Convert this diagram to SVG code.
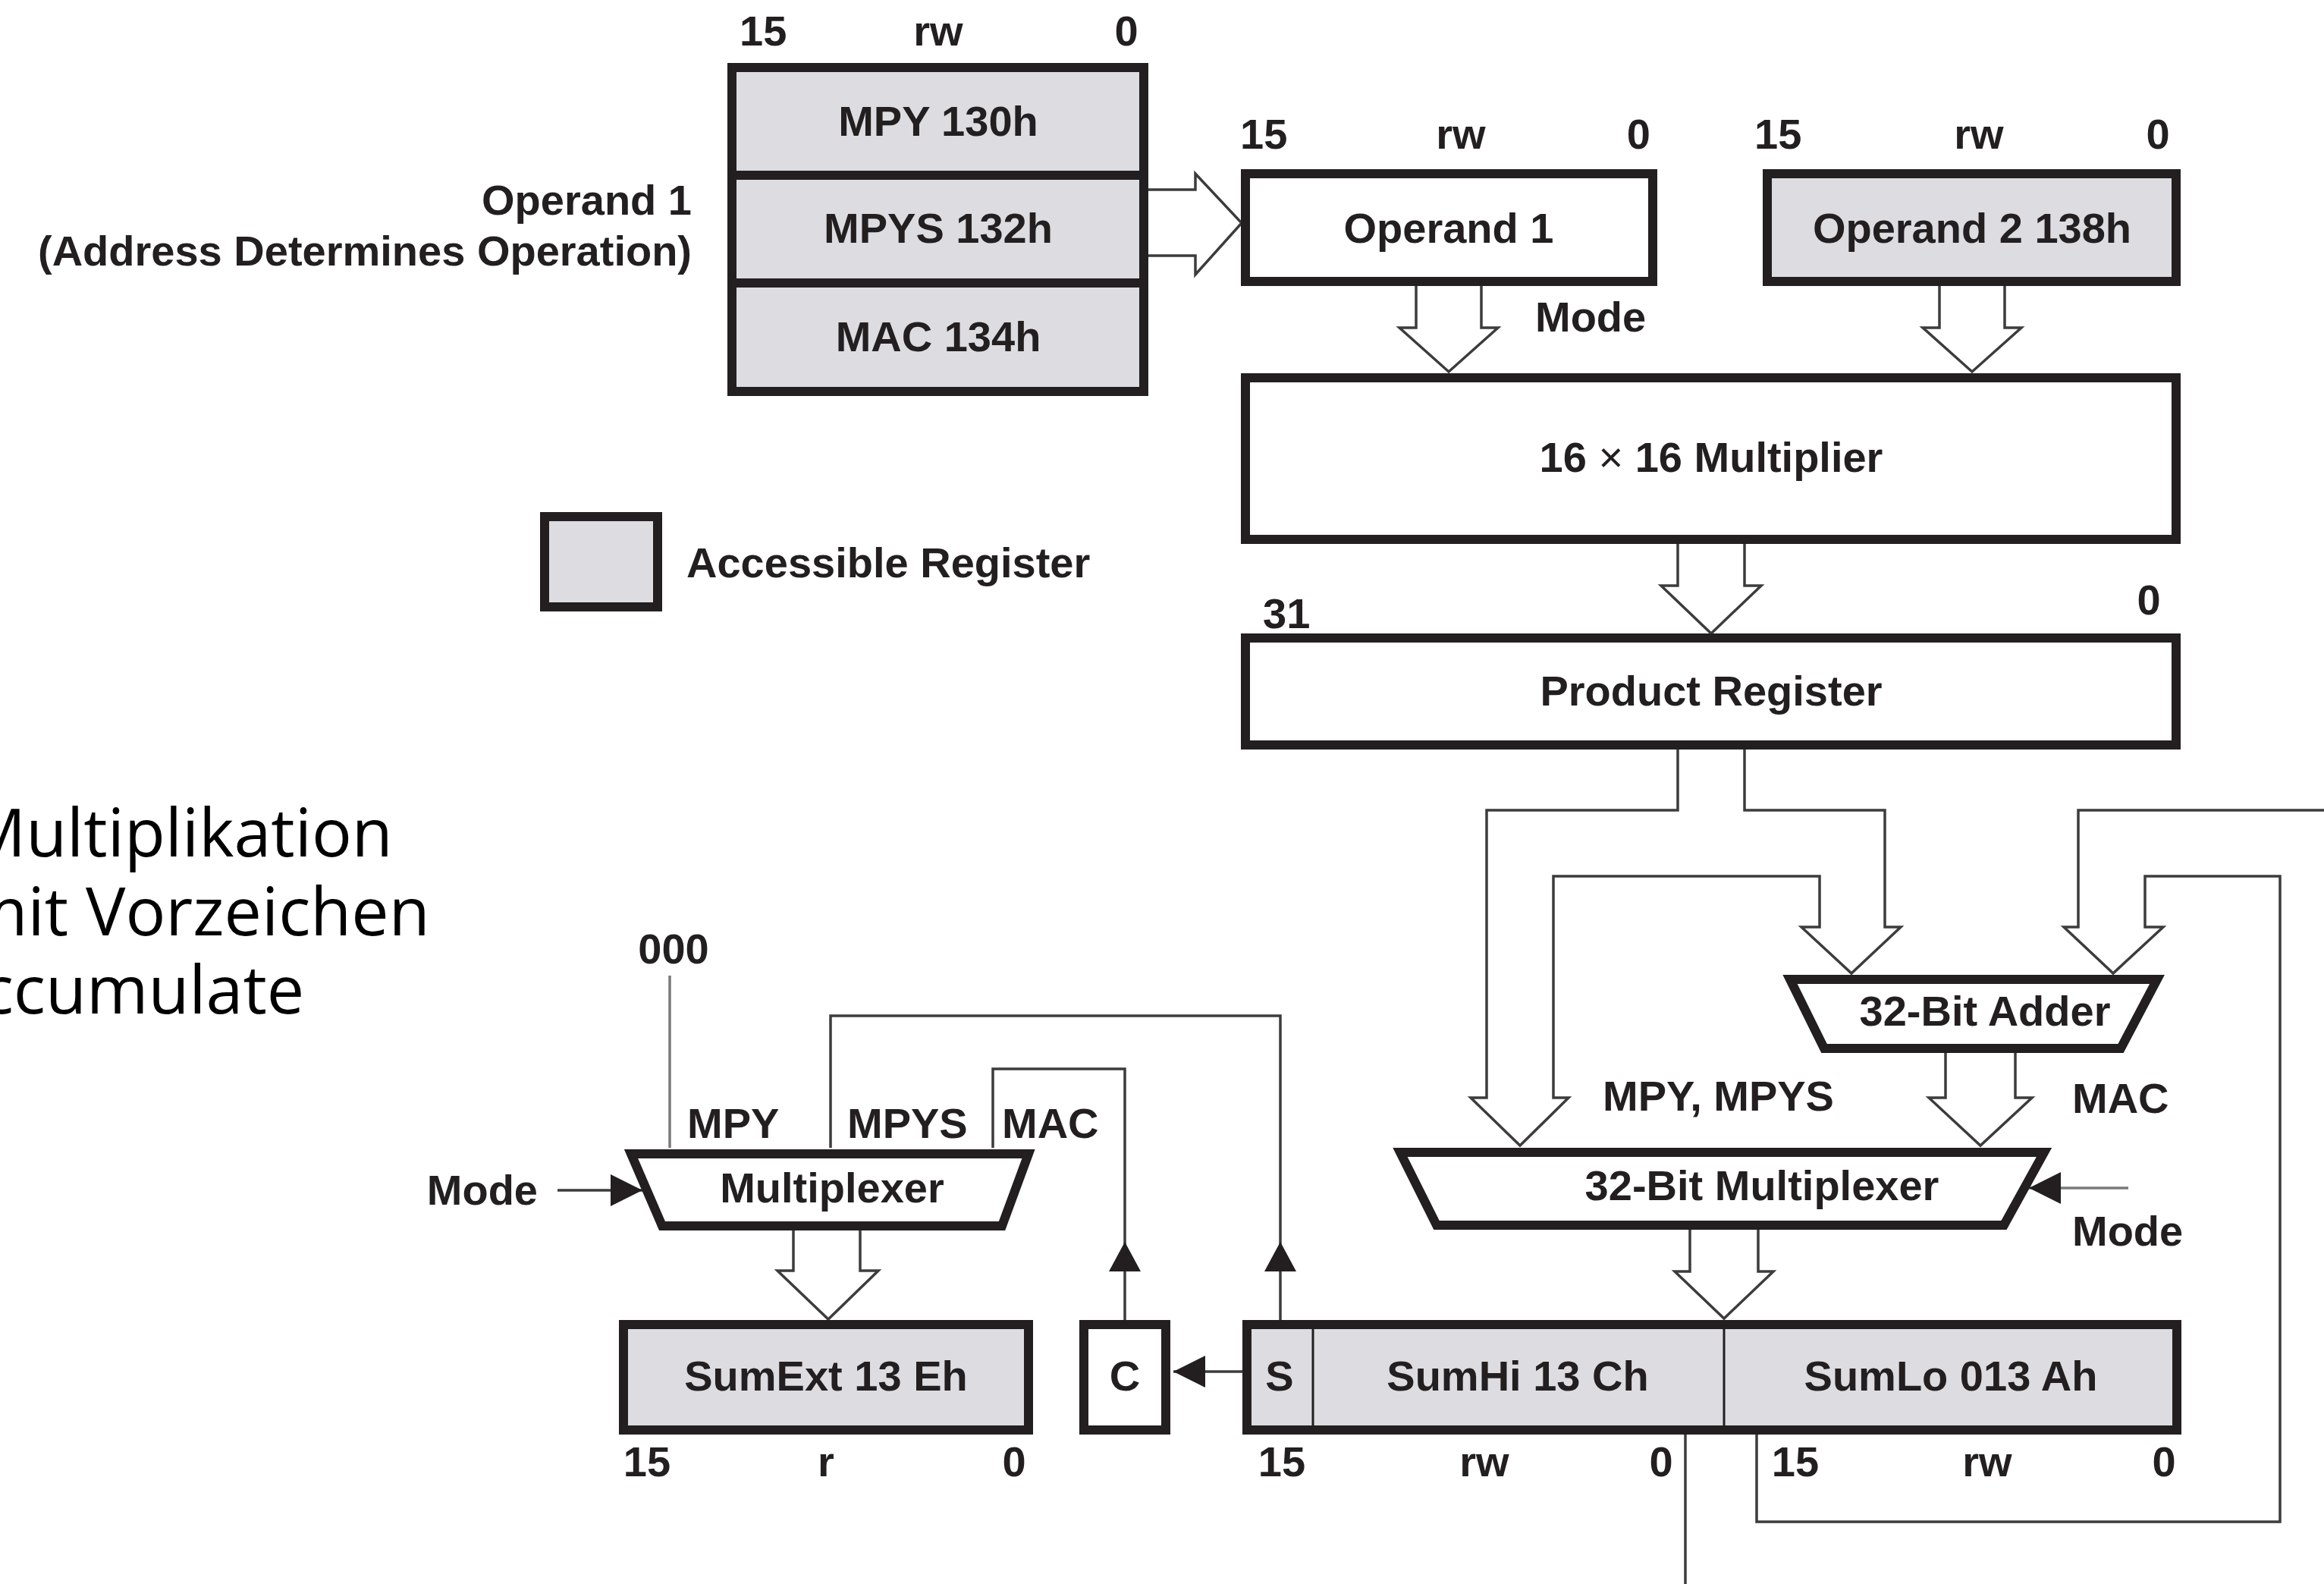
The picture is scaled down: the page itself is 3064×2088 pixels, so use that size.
<svg xmlns="http://www.w3.org/2000/svg" width="3064" height="2088" viewBox="0 0 3064 2088">
<style>
.bg{fill:#ffffff}
.reg{fill:#dcdce1;stroke:#231f20;stroke-width:12}
.box{fill:#ffffff;stroke:#231f20;stroke-width:12}
.div{stroke:#231f20;stroke-width:12}
.thin{stroke:#231f20;stroke-width:3}
.t{font-family:"Liberation Sans",Arial,sans-serif;font-weight:bold;font-size:56px;fill:#231f20}
.m{text-anchor:middle}
.e{text-anchor:end}
.de{font-family:"Open Sans","Noto Sans",sans-serif;font-size:88px;fill:#000000}
.w{fill:none;stroke:#3c3c3c;stroke-width:3.5;stroke-linejoin:miter}
.g{fill:none;stroke:#7a7a7a;stroke-width:3.5}
.hd{fill:#231f20}
</style>
<defs>
<marker id="tri" viewBox="0 0 10 10" refX="10" refY="5" markerUnits="userSpaceOnUse" markerWidth="42" markerHeight="42" orient="auto">
<path d="M0,0 L10,5 L0,10 z" fill="#231f20"/>
</marker>
</defs>
<rect class="bg" x="0" y="0" width="3064" height="2088"/>

<g id="german-text">
<text class="de" x="-45" y="1129">Multiplikation</text>
<text class="de" x="-45" y="1233">mit Vorzeichen</text>
<text class="de" x="-80" y="1336">Accumulate</text>
</g>

<g id="connectors">
<path class="w" d="M1514,250 H1576 V229 L1637,294 L1576,362 V337 H1514"/>
<path class="w" d="M1867,377 V432 H1845 L1910,490 L1975,432 H1953 V377"/>
<path class="w" d="M2557,377 V432 H2535 L2600,490 L2665,432 H2643 V377"/>
<path class="w" d="M2212,717 V772 H2190 L2256,835 L2322,772 H2300 V717"/>
<path class="w" d="M2212,988 V1068 H1960 V1447 H1939 L2004,1510 L2068,1447 H2048 V1155 H2399 V1222 H2375 L2441,1283 L2506,1222 H2485 V1068 H2300 V988"/>
<path class="w" d="M3064,1068 H2740 V1222 H2721 L2786,1283 L2852,1222 H2828 V1155 H3006 V2006 H2316 V1891"/>
<path class="w" d="M2222,1891 V2088"/>
<path class="w" d="M2565,1388 V1447 H2543 L2611,1510 L2679,1447 H2657 V1388"/>
<path class="w" d="M2228,1621 V1676 H2208 L2273,1738 L2338,1676 H2318 V1621"/>
<path class="w" d="M1046,1622 V1675 H1025 L1092,1739 L1158,1675 H1134 V1622"/>
<path class="g" d="M883,1286 V1513"/>
<path class="w" d="M1688,1740 V1339 H1095 V1513"/>
<polygon class="hd" points="1688,1637 1667,1676 1709,1676"/>
<path class="w" d="M1483,1740 V1409 H1309 V1513"/>
<polygon class="hd" points="1483,1637 1462,1676 1504,1676"/>
<line class="w" x1="1638" y1="1808" x2="1547" y2="1808" marker-end="url(#tri)"/>
<line class="w" x1="735" y1="1569" x2="847" y2="1569" marker-end="url(#tri)"/>
<line class="g" x1="2806" y1="1566" x2="2675" y2="1566" marker-end="url(#tri)"/>
</g>

<g id="operand1-regs">
<rect class="reg" x="965" y="89" width="543" height="427"/>
<line class="div" x1="965" y1="231" x2="1508" y2="231"/>
<line class="div" x1="965" y1="373" x2="1508" y2="373"/>
<text class="t" x="975" y="60">15</text>
<text class="t m" x="1237" y="60">rw</text>
<text class="t m" x="1485" y="60">0</text>
<text class="t m" x="1237" y="179">MPY 130h</text>
<text class="t m" x="1237" y="320">MPYS 132h</text>
<text class="t m" x="1237" y="463">MAC 134h</text>
<text class="t e" x="912" y="283">Operand 1</text>
<text class="t e" x="912" y="350">(Address Determines Operation)</text>
</g>

<g id="operand1">
<rect class="box" x="1642" y="229" width="537" height="142"/>
<text class="t" x="1635" y="196">15</text>
<text class="t m" x="1926" y="196">rw</text>
<text class="t e" x="2176" y="196">0</text>
<text class="t m" x="1910" y="320">Operand 1</text>
<text class="t" x="2024" y="437">Mode</text>
</g>

<g id="operand2">
<rect class="reg" x="2330" y="229" width="539" height="142"/>
<text class="t" x="2313" y="196">15</text>
<text class="t m" x="2609" y="196">rw</text>
<text class="t m" x="2845" y="196">0</text>
<text class="t m" x="2600" y="320">Operand 2 138h</text>
</g>

<g id="multiplier">
<rect class="box" x="1642" y="498" width="1227" height="213"/>
<text class="t m" x="2256" y="622">16 <tspan font-weight="normal">×</tspan> 16 Multiplier</text>
</g>

<g id="legend">
<rect class="reg" x="718" y="681" width="149" height="119"/>
<text class="t" x="905" y="761">Accessible Register</text>
</g>

<g id="product-register">
<rect class="box" x="1642" y="841" width="1227" height="141"/>
<text class="t" x="1665" y="828">31</text>
<text class="t m" x="2833" y="810">0</text>
<text class="t m" x="2256" y="930">Product Register</text>
</g>

<g id="adder">
<polygon class="box" points="2360,1291 2844,1291 2796,1382 2405,1382"/>
<text class="t m" x="2617" y="1352">32-Bit Adder</text>
<text class="t" x="2113" y="1464">MPY, MPYS</text>
<text class="t" x="2732" y="1467">MAC</text>
</g>

<g id="mux32">
<polygon class="box" points="1846,1519 2695,1519 2642,1615 1894,1615"/>
<text class="t m" x="2323" y="1582">32-Bit Multiplexer</text>
<text class="t" x="2732" y="1642">Mode</text>
</g>

<g id="multiplexer">
<polygon class="box" points="832,1521 1356,1521 1321,1616 873,1616"/>
<text class="t m" x="888" y="1270">000</text>
<text class="t" x="906" y="1500">MPY</text>
<text class="t" x="1117" y="1500">MPYS</text>
<text class="t" x="1321" y="1500">MAC</text>
<text class="t e" x="709" y="1588">Mode</text>
<text class="t m" x="1097" y="1585">Multiplexer</text>
</g>

<g id="sumext">
<rect class="reg" x="822" y="1746" width="534" height="139"/>
<text class="t m" x="1089" y="1833">SumExt 13 Eh</text>
<text class="t m" x="853" y="1946">15</text>
<text class="t m" x="1089" y="1946">r</text>
<text class="t m" x="1337" y="1946">0</text>
</g>

<g id="carry">
<rect class="box" x="1429" y="1746" width="108" height="139"/>
<text class="t m" x="1483" y="1833">C</text>
</g>

<g id="sum-register">
<rect class="reg" x="1644" y="1746" width="1226" height="139"/>
<line class="thin" x1="1731" y1="1746" x2="1731" y2="1885"/>
<line class="thin" x1="2273" y1="1746" x2="2273" y2="1885"/>
<text class="t m" x="1687" y="1833">S</text>
<text class="t m" x="2001" y="1833">SumHi 13 Ch</text>
<text class="t m" x="2572" y="1833">SumLo 013 Ah</text>
<text class="t m" x="1690" y="1946">15</text>
<text class="t m" x="1957" y="1946">rw</text>
<text class="t m" x="2190" y="1946">0</text>
<text class="t m" x="2367" y="1946">15</text>
<text class="t m" x="2620" y="1946">rw</text>
<text class="t m" x="2853" y="1946">0</text>
</g>
</svg>
